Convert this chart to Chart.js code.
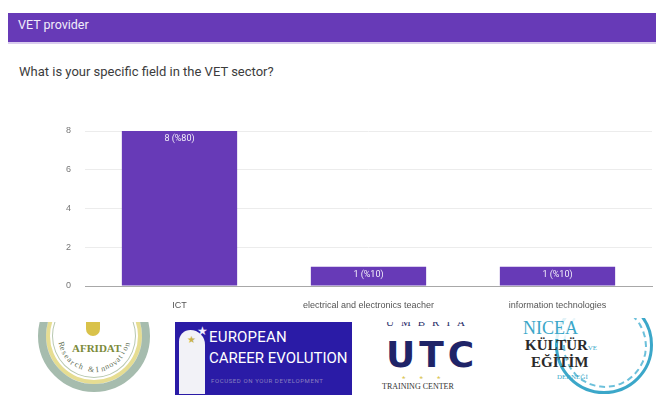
<!DOCTYPE html>
<html>
<head>
<meta charset="utf-8">
<script src="https://cdn.jsdelivr.net/npm/chart.js@4"></script>
<style>
  body { margin: 0; width: 656px; height: 396px; background: #fff; position: relative; overflow: hidden; font-family: Roboto, Arial, sans-serif; }
  .abs { position: absolute; }
  #head { left: 8px; top: 13px; width: 648px; height: 29px; background: #673ab7; border-bottom: 2px solid #d9cdee; }
  #head span { position: absolute; left: 10px; top: 4px; color: #f1ecfa; font-size: 12.5px; }
  #question { left: 19px; top: 64px; font-size: 13px; color: #3c3c3c; }
  #wrap { left: 0; top: 110px; width: 656px; height: 205px; }
  .serif { font-family: "Liberation Serif", "DejaVu Serif", serif; }
</style>
</head>
<body>
<div id="head" class="abs"><span>VET provider</span></div>
<div id="question" class="abs">What is your specific field in the VET sector?</div>
<div id="wrap" class="abs"><canvas id="chart"></canvas></div>

<!-- logos -->
<div id="afridat" class="abs" style="left:30px;top:322px;width:126px;height:74px;overflow:hidden;">
  <div class="abs" style="left:8px;top:-42px;width:96px;height:96px;border-radius:50%;border:8px solid #a6bcae;background:#fff;box-shadow:inset 0 0 0 4px #e6dd92, inset 0 0 0 6px #fff, inset 0 0 0 7px #b8c8b0;"></div>
  <div class="abs serif" style="left:42px;top:20px;font-size:11px;font-weight:bold;color:#7b8a3a;">AFRIDAT</div>
  <div class="abs" style="left:56px;top:0px;width:14px;height:14px;background:#d9c24a;border-radius:0 0 7px 7px;"></div>
</div>
<div class="abs" style="left:175px;top:322px;width:177px;height:73px;background:#2a1ba6;overflow:hidden;">
  <div class="abs" style="left:4px;top:8px;width:26px;height:64px;background:#f2f2f7;border-radius:14px 18px 0 0;"></div>
  <div class="abs" style="left:22px;top:2px;font-size:12px;color:#f4f0ff;">★</div>
  <div class="abs" style="left:12px;top:12px;font-size:10px;color:#c8b24a;">★</div>
  <div class="abs" style="left:34px;top:6px;font-size:15px;color:#fff;letter-spacing:0.2px;">EUROPEAN</div>
  <div class="abs" style="left:34px;top:27px;font-size:15px;color:#fff;">CAREER EVOLUTION</div>
  <div class="abs" style="left:36px;top:55px;font-size:6px;color:#8a80c0;letter-spacing:0.6px;">FOCUSED ON YOUR DEVELOPMENT</div>
</div>
<div class="abs" style="left:380px;top:322px;width:100px;height:74px;overflow:hidden;">
  <div class="abs serif" style="left:6px;top:-6px;font-size:11px;color:#2b2f6a;letter-spacing:7px;">UMBRIA</div>
  <div class="abs" style="left:6px;top:12px;font-size:36px;font-weight:900;color:#1f2468;letter-spacing:4px;font-family:'DejaVu Sans',sans-serif;">UTC</div>
  <div class="abs" style="left:22px;top:52px;font-size:8px;color:#d8c34a;letter-spacing:14px;">***</div>
  <div class="abs serif" style="left:2px;top:60px;font-size:8px;color:#333;">TRAINING CENTER</div>
</div>
<div class="abs" style="left:515px;top:318px;width:141px;height:78px;overflow:hidden;">
  <div class="abs" style="left:40px;top:-22px;width:92px;height:92px;border-radius:50%;border:3px solid #3ba7c9;"></div>
  <div class="abs" style="left:48px;top:-14px;width:80px;height:80px;border-radius:50%;border:2px dashed #6cc0db;"></div>
  <div class="abs serif" style="left:8px;top:0px;font-size:18px;color:#3ba7c9;background:rgba(255,255,255,0.85);">NICEA</div>
  <div class="abs serif" style="left:10px;top:19px;font-size:15px;font-weight:bold;color:#2a2a2a;">KÜLTÜR<span style="font-size:7px;font-weight:normal;color:#3ba7c9;">VE</span></div>
  <div class="abs serif" style="left:16px;top:36px;font-size:15px;font-weight:bold;color:#2a2a2a;">EĞİTİM</div>
  <div class="abs serif" style="left:42px;top:55px;font-size:7px;color:#3ba7c9;">DERNEĞİ</div>
</div>

<script>
const categories = ['ICT', 'electrical and electronics teacher', 'information technologies'];
const counts = [8, 1, 1];
const valueLabels = ['8 (%80)', '1 (%10)', '1 (%10)'];
const yTicks = [0, 2, 4, 6, 8];

// curved "Research & Innovation" text on the AFRIDAT badge
(function () {
  const box = document.getElementById('afridat');
  const txt = 'Research & Innovation';
  const cx = 64, cy = 14, r = 34;
  const start = 165, end = 15;
  for (let i = 0; i < txt.length; i++) {
    const deg = start + (end - start) * i / (txt.length - 1);
    const a = deg * Math.PI / 180;
    const s = document.createElement('span');
    s.textContent = txt[i];
    s.className = 'abs serif';
    s.style.cssText += 'font-size:8px;color:#5f6f55;';
    s.style.left = (cx + r * Math.cos(a) - 2) + 'px';
    s.style.top = (cy + r * Math.sin(a) - 5) + 'px';
    s.style.transform = 'rotate(' + (deg - 90) + 'deg)';
    box.appendChild(s);
  }
})();

const barLabels = {
  id: 'barLabels',
  afterDatasetsDraw(chart) {
    const ctx = chart.ctx;
    const meta = chart.getDatasetMeta(0);
    ctx.save();
    ctx.fillStyle = '#f3effa';
    ctx.font = '9px Roboto, Arial, sans-serif';
    ctx.textAlign = 'center';
    ctx.textBaseline = 'middle';
    meta.data.forEach((bar, i) => {
      ctx.fillText(valueLabels[i], bar.x, bar.y + 8);
    });
    ctx.restore();
  }
};

new Chart(document.getElementById('chart'), {
  type: 'bar',
  data: {
    labels: categories,
    datasets: [{
      data: counts,
      backgroundColor: '#673ab7',
      categoryPercentage: 1,
      barPercentage: 0.61
    }]
  },
  plugins: [barLabels],
  options: {
    responsive: true,
    maintainAspectRatio: false,
    animation: false,
    layout: { padding: { left: 0, right: 4, top: 21, bottom: 0 } },
    plugins: { legend: { display: false }, tooltip: { enabled: false } },
    scales: {
      x: {
        grid: { display: false },
        border: { color: '#a8a8a8', width: 1 },
        ticks: { color: '#555', font: { size: 9 }, padding: 6, maxRotation: 0, autoSkip: false },
        afterFit(scale) { scale.height = 29; }
      },
      y: {
        min: 0, max: 8,
        afterBuildTicks(scale) { scale.ticks = yTicks.map(v => ({ value: v })); },
        grid: { color: '#ececec', drawTicks: false },
        border: { display: false },
        ticks: { color: '#777', font: { size: 9 }, padding: 14 },
        afterFit(scale) { scale.width = 85; }
      }
    }
  }
});
</script>
</body>
</html>
